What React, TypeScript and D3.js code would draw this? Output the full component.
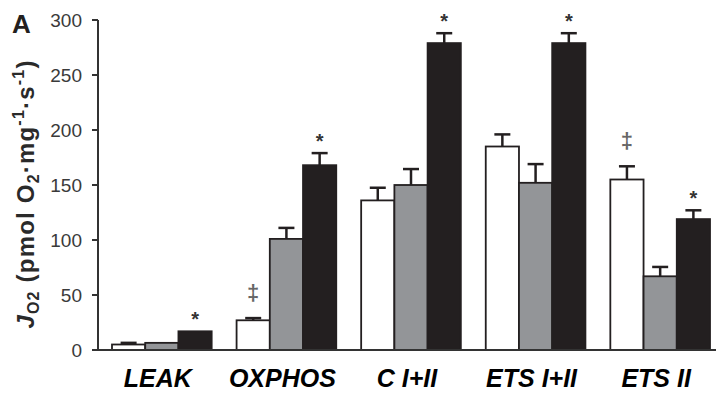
import React from 'react';
import * as d3 from 'd3';

// Respiration states (groups on the x axis)
const categories = ['LEAK', 'OXPHOS', 'C I+II', 'ETS I+II', 'ETS II'];
// Three conditions per state, drawn white, gray, black
const seriesKeys = ['white', 'gray', 'black'];

const whiteMeans = [5, 27, 136, 185, 155];
const whiteErr = [1.5, 2, 11.5, 11, 12];
const grayMeans = [6.5, 101, 150, 152, 67];
const grayErr = [0, 10, 14.5, 17, 8.5];
const blackMeans = [17, 168, 279, 279, 119];
const blackErr = [0, 11, 9, 9, 8];

// Significance symbols above each bar
const whiteMarks = ['', '‡', '', '', '‡'];
const grayMarks = ['', '', '', '', ''];
const blackMarks = ['*', '*', '*', '*', '*'];

const yTicks = [0, 50, 100, 150, 200, 250, 300];

const W = 716;
const H = 394;
const INK = '#231f20';
const FILLS: Record<string, string> = { white: '#ffffff', gray: '#939598', black: '#231f20' };
const FONT = 'Arial, "Liberation Sans", Helvetica, sans-serif';

export default function App() {
  const y = d3.scaleLinear().domain([0, 300]).range([350, 20]);
  const x = d3.scaleBand().domain(categories).range([112, 710]).paddingInner(0.2).paddingOuter(0);
  const xs = d3.scaleBand().domain(seriesKeys).range([0, x.bandwidth()]).padding(0);

  const means: Record<string, number[]> = { white: whiteMeans, gray: grayMeans, black: blackMeans };
  const errs: Record<string, number[]> = { white: whiteErr, gray: grayErr, black: blackErr };
  const marks: Record<string, string[]> = { white: whiteMarks, gray: grayMarks, black: blackMarks };

  const axisX = 98;
  const baseY = y(0);

  return (
    <div style={{ position: 'absolute', left: 0, top: 0 }}>
      <svg width={W} height={H} style={{ display: 'block', background: '#fff' }} fontFamily={FONT}>
        {/* panel letter */}
        <text x={12} y={33} fontSize={26} fontWeight="bold" fill={INK}>A</text>

        {/* y axis title */}
        <text
          transform={`translate(34, ${194}) rotate(-90)`}
          textAnchor="middle"
          fontSize={24}
          fontWeight="bold"
          letterSpacing={1.2}
          fill="#2a2a2a"
        >
          <tspan fontStyle="italic">J</tspan>
          <tspan fontSize={16} dy={5}>O2</tspan>
          <tspan dy={-5}> (pmol O</tspan>
          <tspan fontSize={16} dy={5}>2</tspan>
          <tspan dy={-5}>·mg</tspan>
          <tspan fontSize={16} dy={-10}>-1</tspan>
          <tspan dy={10}>·s</tspan>
          <tspan fontSize={16} dy={-10}>-1</tspan>
          <tspan dy={10}>)</tspan>
        </text>

        {/* y axis */}
        <line x1={axisX} x2={axisX} y1={y(300)} y2={baseY} stroke="#333" strokeWidth={2} />
        {yTicks.map((t) => (
          <g key={t}>
            <line x1={axisX - 6} x2={axisX} y1={y(t)} y2={y(t)} stroke="#333" strokeWidth={2} />
            <text x={82} y={y(t) + 6.5} textAnchor="end" fontSize={19} fill="#3a3a3a">
              {t}
            </text>
          </g>
        ))}

        {/* bars */}
        {categories.map((c, i) => (
          <g key={c} transform={`translate(${x(c)},0)`}>
            {seriesKeys.map((s) => {
              const v = means[s][i];
              const e = errs[s][i];
              const bx = xs(s) as number;
              const bw = xs.bandwidth();
              const cx = bx + bw / 2;
              const top = y(v);
              const capY = y(v + e);
              const mark = marks[s][i];
              return (
                <g key={s}>
                  <rect
                    x={bx}
                    y={top}
                    width={bw}
                    height={baseY - top}
                    fill={FILLS[s]}
                    stroke={INK}
                    strokeWidth={1.8}
                  />
                  {e > 0 && (
                    <g stroke={INK} strokeWidth={2.5}>
                      <line x1={cx} x2={cx} y1={top} y2={capY} />
                      <line x1={cx - 8} x2={cx + 8} y1={capY} y2={capY} />
                    </g>
                  )}
                  {mark === '*' && (
                    <text x={cx} y={capY - 17 + 11.5} textAnchor="middle" fontSize={20} fontWeight="bold" fill="#333">
                      *
                    </text>
                  )}
                  {mark === '‡' && (
                    <text x={cx} y={capY - 25 + 6.5} textAnchor="middle" fontSize={22} fontWeight="bold" fill="#666">
                      ‡
                    </text>
                  )}
                </g>
              );
            })}
          </g>
        ))}

        {/* baseline */}
        <line x1={axisX - 6} x2={W} y1={baseY} y2={baseY} stroke="#333" strokeWidth={2} />

        {/* category labels */}
        {categories.map((c) => (
          <text
            key={c}
            x={(x(c) as number) + x.bandwidth() / 2 - 4}
            y={387}
            textAnchor="middle"
            fontSize={25}
            fontWeight="bold"
            fontStyle="italic"
            fill="#000"
          >
            {c}
          </text>
        ))}
      </svg>
    </div>
  );
}
